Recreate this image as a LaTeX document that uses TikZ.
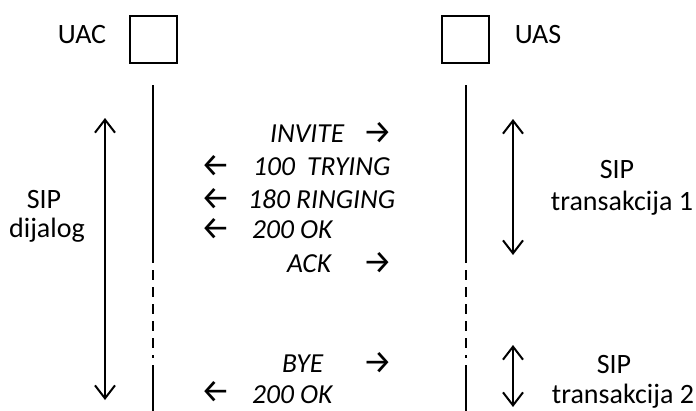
\documentclass[tikz,border=0pt]{standalone}
\usepackage{fontspec}
\setmainfont{Carlito}
\newfontfamily\arrowfont{Fira Sans}
\usetikzlibrary{arrows.meta}
\begin{document}
\begin{tikzpicture}[x=1pt,y=-1pt,
  lbl/.style={font=\fontsize{28}{32}\selectfont, inner sep=0pt, anchor=base},
  msg/.style={font=\fontsize{27.5}{32}\selectfont\itshape, inner sep=0pt, anchor=base west},
  arr/.style={font=\fontsize{33}{36}\selectfont\arrowfont, inner sep=0pt, anchor=base, text height=14pt, text depth=0pt},
  entity/.style={draw, line width=2pt, minimum size=47pt, inner sep=0pt},
  life/.style={line width=1.5pt},
  lifedash/.style={line width=1.5pt, dash pattern=on 10pt off 7pt},
  span/.style={line width=2pt, {Straight Barb[length=13pt,width=20pt,line width=2pt]}-{Straight Barb[length=13pt,width=20pt,line width=2pt]}}
]
\useasboundingbox (0,0) rectangle (696,410);

% entities
\node[entity] (uacbox) at (153.5,39.5) {};
\node[entity] (uasbox) at (465.5,39.5) {};
\node[lbl] (uac) at (82,43) {UAC};
\node[lbl] (uas) at (538,43) {UAS};

% lifelines
\coordinate (l0) at (153,85);
\coordinate (l1) at (153,253);
\coordinate (l2) at (153,358);
\coordinate (l3) at (153,365);
\coordinate (l4) at (153,412);
\coordinate (r0) at (466,85);
\coordinate (r1) at (466,253);
\coordinate (r2) at (466,358);
\coordinate (r3) at (466,365);
\coordinate (r4) at (466,412);
\draw[life] (l0) -- (l1);
\draw[lifedash] (l1) -- (l2);
\draw[life] (l3) -- (l4);
\draw[life] (r0) -- (r1);
\draw[lifedash] (r1) -- (r2);
\draw[life] (r3) -- (r4);

% span arrows
\coordinate (d0) at (105,118);
\coordinate (d1) at (105,400);
\coordinate (t10) at (513,119);
\coordinate (t11) at (513,255);
\coordinate (t20) at (513,345);
\coordinate (t21) at (513,407);
\draw[span] (d0) -- (d1);
\draw[span] (t10) -- (t11);
\draw[span] (t20) -- (t21);

% side labels
\node[lbl] (dlg1) at (44,208) {SIP};
\node[lbl] (dlg2) at (47,237) {dijalog};
\node[lbl] (tr1a) at (617,178) {SIP};
\node[lbl] (tr1b) at (622,210) {transakcija 1};
\node[lbl] (tr2a) at (614,373) {SIP};
\node[lbl] (tr2b) at (623,403) {transakcija 2};

% messages
\node[msg] (m1) at (270,142) {INVITE};
\node[arr] (a1) at (377.5,143) {→};
\node[arr] (a2) at (215.5,176) {←};
\node[msg] (m2) at (253,175) {100\hspace{6pt} TRYING};
\node[arr] (a3) at (215.5,209) {←};
\node[msg] (m3) at (248,208) {180 RINGING};
\node[arr] (a4) at (215.5,239) {←};
\node[msg] (m4) at (252,238) {200 OK};
\node[msg] (m5) at (287,272) {ACK};
\node[arr] (a5) at (377.5,273) {→};
\node[msg] (m6) at (282,372) {BYE};
\node[arr] (a6) at (377.5,373) {→};
\node[arr] (a7) at (215.5,402.5) {←};
\node[msg] (m7) at (252,403) {200 OK};
\end{tikzpicture}
\end{document}
